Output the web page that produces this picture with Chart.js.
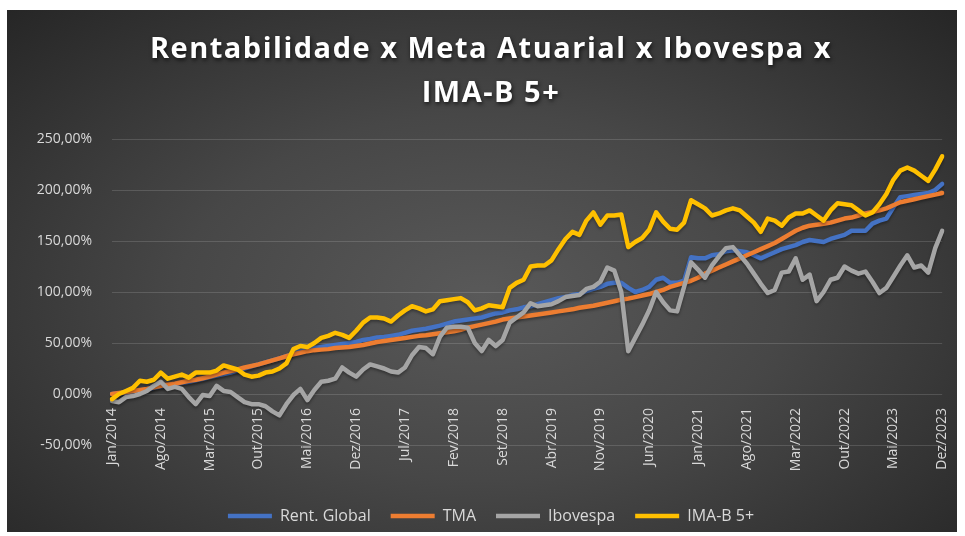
<!DOCTYPE html>
<html>
<head>
<meta charset="utf-8">
<script src="https://cdn.jsdelivr.net/npm/chart.js@4"></script>
<style>
  html, body { margin: 0; padding: 0; background: #fff; }
  #wrap { position: relative; width: 965px; height: 536px; }
  #fundo {
    position: absolute; left: 7px; top: 10px; width: 950px; height: 522px;
    background: radial-gradient(ellipse farthest-corner at 50% 55%, #595959 0%, #474747 45%, #262626 100%);
  }
  #grafico { position: absolute; left: 0; top: 0; }
</style>
</head>
<body>
<div id="wrap">
  <div id="fundo"></div>
  <canvas id="grafico" width="965" height="536"></canvas>
</div>
<script>
/* categorias: Jan/2014 .. Dez/2023 */
const meses = ['Jan', 'Fev', 'Mar', 'Abr', 'Mai', 'Jun', 'Jul', 'Ago', 'Set', 'Out', 'Nov', 'Dez'];
const anos = [2014, 2015, 2016, 2017, 2018, 2019, 2020, 2021, 2022, 2023];
const categorias = [];
for (const a of anos) {
  for (const m of meses) categorias.push(m + '/' + a);
}

/* valores em % */
const rentGlobal = [
  0, 0.5, 1.5, 2.5, 3.5, 4.5, 6, 7.5,
  8.5, 9.5, 11, 12, 13.5, 15, 16.5,
  18, 19.5, 21, 23, 25, 27, 29,
  31, 33, 35, 37, 40, 42, 44,
  45, 46, 47, 48, 49, 50, 51,
  53, 54, 55.5, 56,
  57, 58, 60, 62, 63, 64, 65.5, 67, 69, 71,
  72, 73, 74, 75, 77, 79, 80,
  82, 83, 85, 86, 88, 90, 92,
  94, 95, 97, 98, 101, 103, 105,
  108, 109, 109, 104, 100, 102, 105,
  112, 114, 109, 109, 111, 134, 133,
  133, 136, 137, 140, 141, 140, 139,
  136, 133, 136, 139, 142, 144, 146,
  149, 151, 150, 149, 152, 154, 156,
  160, 160, 160, 167, 170, 172, 183,
  193, 194, 195, 196, 197, 200, 206
];
const tma = [
  0, 1, 2, 3, 4, 5, 6.5, 8,
  9, 10, 11.5, 13, 14, 15.5, 17,
  19, 21, 22.5, 24, 26, 27.5, 29,
  31, 33, 35, 37, 39, 40.5, 42,
  43, 43.5, 44, 45, 45.5, 46, 47,
  48, 49.5, 51, 52,
  53, 54, 55, 56, 57, 57.5, 58.5, 59.5, 60.5, 61.5,
  63, 65, 66.5, 68, 69.5, 71, 73,
  74, 75, 76, 77, 78, 79, 80,
  81, 82, 83, 84.5, 85.5, 86.5, 88,
  89.5, 91, 92.5, 93.5, 95, 96.5, 98,
  100, 102, 105, 107, 109, 111, 114,
  118, 121, 124, 127, 130, 133, 136,
  139, 142, 145, 148, 152, 156, 160,
  163, 165, 166, 167, 168, 170, 172,
  173, 175, 177, 178.5, 180, 182, 185,
  188, 189.5, 191, 192.5, 194, 195.5, 197
];
const ibovespa = [
  -7, -8, -3, -2, 0, 3, 8, 12,
  5, 7, 5, -3, -10, -1, -2,
  8, 3, 2, -3, -8, -10, -10,
  -12, -17, -21, -10, -1, 5, -6,
  4, 12, 13, 15, 26, 21, 17,
  24, 29, 27, 25,
  22, 21, 26, 38, 46, 45, 39, 56, 65, 66,
  66, 65, 50, 42, 53, 47, 53,
  70, 75, 80, 89, 86, 87, 88,
  91, 95, 96, 97, 103, 105, 110,
  124, 121, 100, 42, 55, 68, 82,
  100, 90, 82, 81, 105, 129, 122,
  114, 126, 135, 143, 144, 136, 128,
  118, 108, 99, 102, 119, 120, 133,
  112, 117, 91, 100, 112, 114, 125,
  121, 118, 120, 110, 99, 104, 115,
  126, 136, 124, 126, 119, 143, 160
];
const imaB5 = [
  -5, 0, 3, 6, 13, 12, 14, 21,
  15, 17, 19, 16, 21, 21, 21,
  23, 28, 26, 24, 19, 17, 18,
  21, 22, 25, 30, 44, 47, 46,
  50, 55, 57, 60, 58, 55, 62,
  70, 75, 75, 74,
  71, 77, 82, 86, 84, 81, 83, 91, 92, 93,
  94, 90, 82, 84, 87, 86, 85,
  104, 109, 112, 125, 126, 126, 131,
  142, 152, 159, 156, 170, 178, 166,
  175, 175, 176, 144, 149, 153, 161,
  178, 169, 162, 161, 168, 190, 186,
  182, 175, 177, 180, 182, 180, 174,
  168, 159, 172, 170, 165, 173, 177,
  177, 180, 175, 170, 180, 187, 186,
  185, 180, 175, 178, 186, 196, 210,
  219, 222, 219, 214, 209, 220, 233
];

const yTicks = [-50, 0, 50, 100, 150, 200, 250];

const corTexto = '#d9d9d9';
const fonte = "'Open Sans', 'DejaVu Sans', sans-serif";

function serie(label, data, cor, ordem) {
  return {
    label: label,
    data: data,
    borderColor: cor,
    backgroundColor: cor,
    borderWidth: 4.5,
    pointRadius: 0,
    pointHoverRadius: 0,
    tension: 0,
    borderJoinStyle: 'round',
    borderCapStyle: 'round',
    fill: false,
    order: ordem
  };
}

// titulo com espacamento e sombra, linhas com sombra leve
const efeitos = {
  id: 'efeitos',
  afterLayout(chart) {
    const tb = chart.titleBlock;
    if (tb && !tb._patched) {
      const orig = tb.draw;
      tb.draw = function (area) {
        const ctx = this.ctx;
        ctx.save();
        ctx.letterSpacing = '1.5px';
        ctx.shadowColor = 'rgba(0,0,0,0.7)';
        ctx.shadowBlur = 4;
        ctx.shadowOffsetX = 1;
        ctx.shadowOffsetY = 2;
        orig.call(this, area);
        ctx.restore();
      };
      tb._patched = true;
    }
  },
  beforeDatasetsDraw(chart) {
    const ctx = chart.ctx;
    ctx.save();
    ctx.shadowColor = 'rgba(0,0,0,0.35)';
    ctx.shadowBlur = 3;
    ctx.shadowOffsetY = 2;
  },
  afterDatasetsDraw(chart) {
    chart.ctx.restore();
  }
};

new Chart(document.getElementById('grafico'), {
  type: 'line',
  data: {
    labels: categorias,
    datasets: [
      serie('Rent. Global', rentGlobal, '#4472C4', 4),
      serie('TMA', tma, '#ED7D31', 3),
      serie('Ibovespa', ibovespa, '#A5A5A5', 2),
      serie('IMA-B 5+', imaB5, '#FFC000', 1)
    ]
  },
  plugins: [efeitos],
  options: {
    responsive: false,
    animation: false,
    layout: { padding: { left: 34, right: 17, top: 0, bottom: 2 } },
    plugins: {
      title: {
        display: true,
        text: ['Rentabilidade x Meta Atuarial x Ibovespa x', 'IMA-B 5+'],
        color: '#ffffff',
        font: { family: fonte, size: 29, weight: 'bold', lineHeight: 1.5 },
        padding: { top: 28, bottom: 24 }
      },
      legend: {
        position: 'bottom',
        title: { display: true, text: ' ', font: { size: 10, lineHeight: 1.2 }, padding: { top: 31, bottom: 0 } },
        labels: {
          color: corTexto,
          font: { family: fonte, size: 16 },
          usePointStyle: true,
          pointStyle: 'line',
          pointStyleWidth: 44,
          padding: 20,
          sort: (a, b) => a.datasetIndex - b.datasetIndex
        }
      },
      tooltip: { enabled: false }
    },
    scales: {
      x: {
        type: 'category',
        position: { y: 0 },
        grid: { display: false },
        border: { display: false },
        afterFit: (s) => { s.height = 0; },
        ticks: {
          color: corTexto,
          font: { family: fonte, size: 14 },
          autoSkip: false,
          minRotation: 90,
          maxRotation: 90,
          padding: 6,
          callback: function (v, i) { return i % 7 === 0 ? categorias[i] : null; }
        }
      },
      y: {
        min: -50,
        max: 250,
        afterFit: (s) => { s.width = 78; },
        afterBuildTicks: (s) => { s.ticks = yTicks.map(v => ({ value: v })); },
        grid: { color: 'rgba(255,255,255,0.14)', lineWidth: 1, drawTicks: false },
        border: { display: false },
        ticks: {
          color: corTexto,
          font: { family: fonte, size: 14 },
          padding: 20,
          callback: (v) => v.toFixed(2).replace('.', ',') + '%'
        }
      }
    }
  }
});
</script>
</body>
</html>
